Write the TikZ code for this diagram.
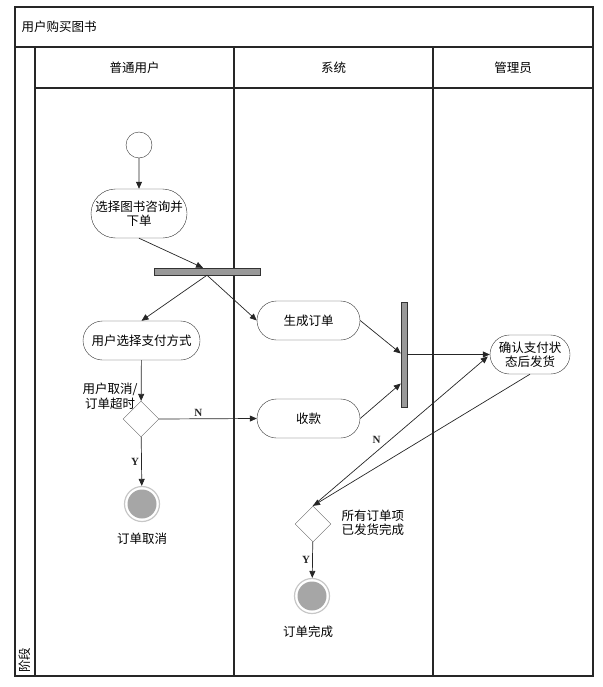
\documentclass[tikz,border=0pt]{standalone}
\usepackage{fontspec}
\setmainfont{Noto Sans CJK SC}
\newfontfamily\ynfont{Liberation Serif}
\usepackage{tikz}
\usetikzlibrary{arrows.meta, shapes.misc, shapes.geometric, calc}

\tikzset{
  act/.style={rounded rectangle, draw=black!80, fill=white, inner sep=1pt, minimum height=39pt, align=center, font=\fontsize{12.5}{14.5}\selectfont},
  syncbar/.style={draw=black!80, fill=black!40, inner sep=0pt},
  choice/.style={diamond, draw=black!60, fill=white, minimum width=36pt, minimum height=36pt, inner sep=0pt},
  endstate/.style={circle, draw=black!22, line width=1.2pt, fill=white, minimum size=35pt, inner sep=0pt},
  lane/.style={draw=black!85, line width=1.2pt},
  flow/.style={-{Triangle[length=7pt,width=6pt]}, black!85, line width=0.7pt},
  txt/.style={font=\fontsize{12.5}{14.5}\selectfont, align=center},
  yn/.style={font=\ynfont\bfseries\fontsize{11}{12}\selectfont, inner sep=2pt}
}

\begin{document}
\begin{tikzpicture}[x=1pt, y=-1pt]
\useasboundingbox (0,0) rectangle (602,687);

% swimlanes
\draw[lane] (15,7) rectangle (593,676);
\draw[lane] (15,47) -- (593,47);
\draw[lane] (35,88) -- (593,88);
\draw[lane] (35,47) -- (35,676);
\draw[lane] (234,47) -- (234,676);
\draw[lane] (433,47) -- (433,676);
\node[txt, anchor=west] (title) at (18,27) {用户购买图书};
\node[txt] (laneuser) at (134.5,68) {普通用户};
\node[txt] (lanesys) at (333.5,68) {系统};
\node[txt] (laneadmin) at (513,68) {管理员};
\node[txt, rotate=90] (stage) at (25,660) {阶段};

% activities
\node[circle, draw=black!80, fill=white, minimum size=26pt, inner sep=0pt] (start) at (139,145) {};
\node[act, minimum width=98pt, minimum height=49pt] (select) at (139,213.5) {选择图书咨询并\\下单};
\node[syncbar, minimum width=106pt, minimum height=7pt] (fork) at (207,271.5) {};
\node[act, minimum width=119pt] (pay) at (141.5,340.5) {用户选择支付方式};
\node[act, minimum width=105pt] (order) at (308.5,320.5) {生成订单};
\node[act, minimum width=105pt] (collect) at (308.5,418.5) {收款};
\node[syncbar, minimum width=6pt, minimum height=105pt] (join) at (404,354.5) {};
\node[act, minimum width=82pt] (confirm) at (530,354.5) {确认支付状\\态后发货};
\node[choice] (cancelq) at (141,419) {};
\node[choice] (doneq) at (313,524) {};
\node[endstate] (cancelend) at (142,504) {};
\fill[black!35] (cancelend.center) circle (14.5);
\node[endstate] (doneend) at (312,596) {};
\fill[black!35] (doneend.center) circle (14.5);

% labels
\node[txt] (cancellabel) at (110,396) {用户取消/\\订单超时};
\node[txt, anchor=west, align=left] (donelabel) at (338,523) {所有订单项\\已发货完成};
\node[txt] (cancelname) at (142,539) {订单取消};
\node[txt] (donename) at (308,632) {订单完成};

% flows
\draw[flow] (start) -- (select);
\draw[flow] (select.south) -- ($(fork.north)+(-4,0)$);
\draw[flow] (fork.south) -- (pay.north);
\draw[flow] (fork.south) -- (order.west);
\draw[flow] (pay) -- (cancelq);
\draw[flow] (cancelq) -- node[yn, left] {Y} (cancelend);
\draw[flow] (cancelq.east) -- node[yn, above, pos=0.4] {N} (collect.west);
\draw[flow] (order.east) -- ($(join.west)+(0,-1)$);
\draw[flow] (collect.east) -- ($(join.west)+(0,29)$);
\draw[flow] (join.east) -- (confirm.west);
\draw[flow] (confirm.south) -- (doneq.north);
\draw[flow] (doneq.north) -- node[yn, above left, pos=0.4] {N} ($(confirm.west)+(-2,2)$);
\draw[flow] (doneq) -- node[yn, left] {Y} (doneend);
\end{tikzpicture}
\end{document}
